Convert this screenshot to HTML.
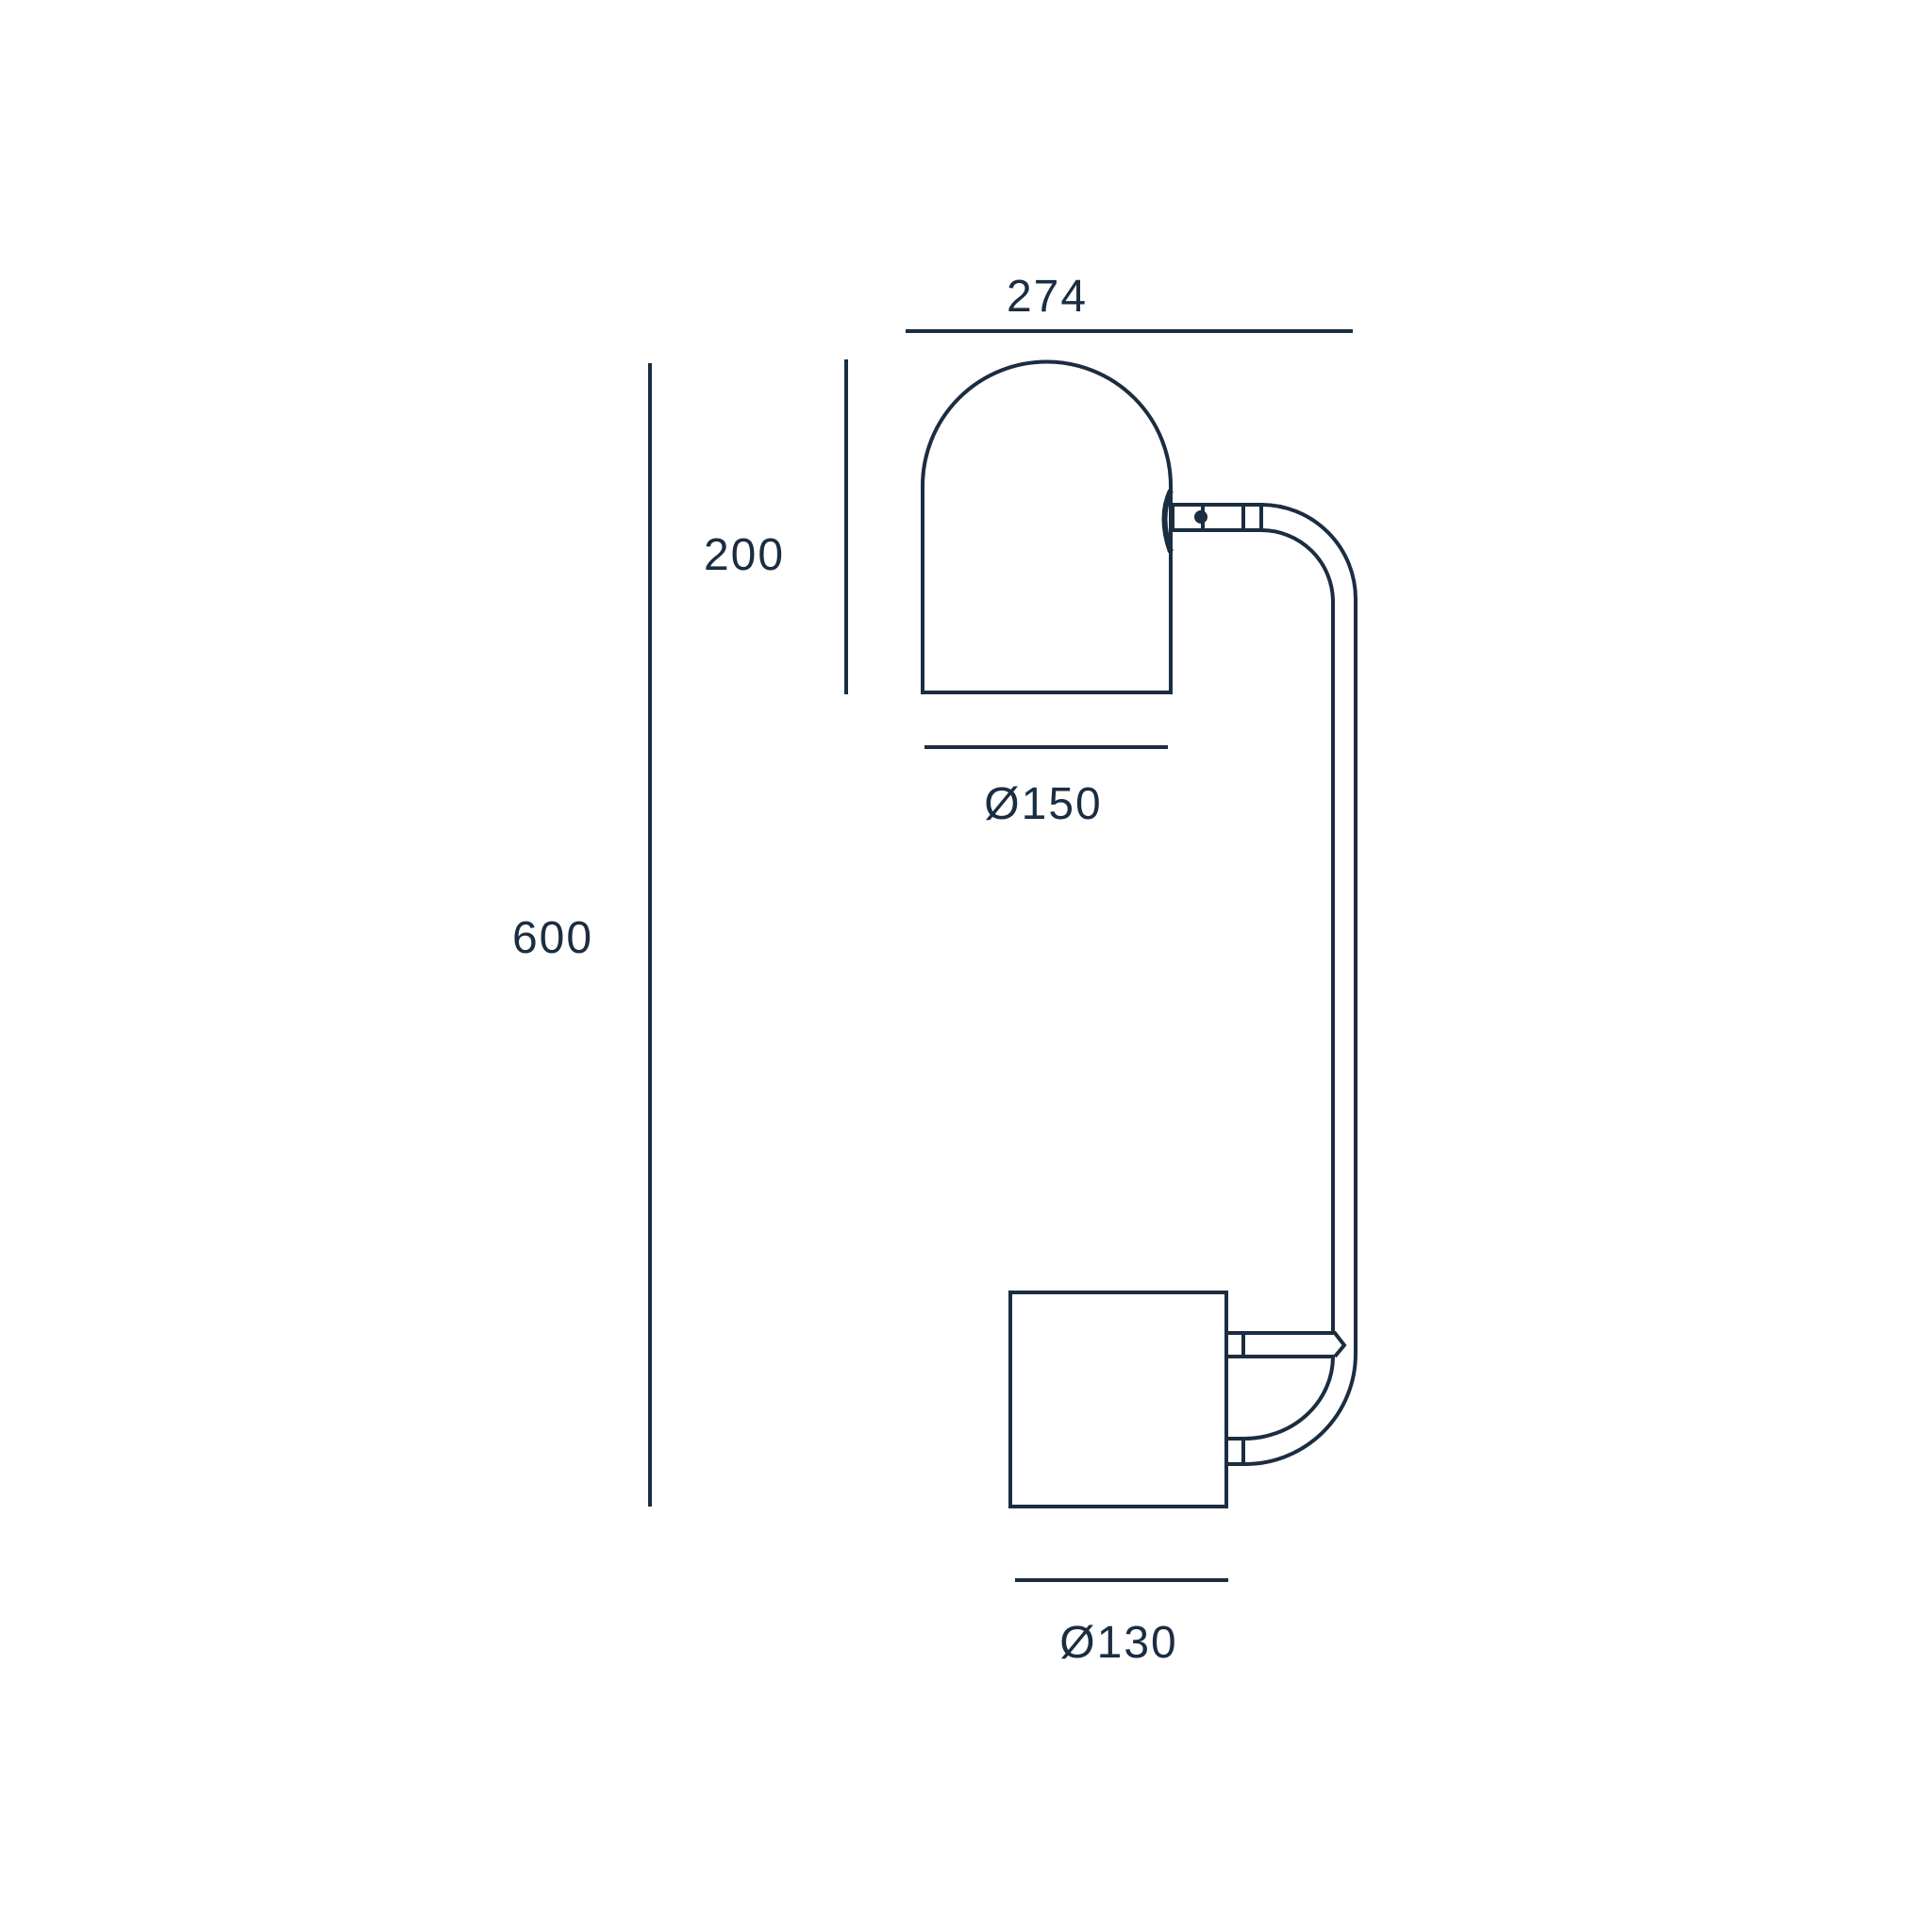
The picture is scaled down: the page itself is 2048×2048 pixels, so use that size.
<!DOCTYPE html>
<html><head><meta charset="utf-8"><style>
html,body{margin:0;padding:0;background:#fff;}
svg{display:block}
text{font-family:"Liberation Sans",sans-serif;font-size:48px;fill:#1b2d40;letter-spacing:2px}
</style></head><body>
<svg width="2048" height="2048" viewBox="0 0 2048 2048" xmlns="http://www.w3.org/2000/svg">
<g stroke="#1b2d40" stroke-width="4" fill="none">
<!-- dimension lines -->
<line x1="960" y1="351" x2="1434" y2="351"/>
<line x1="897" y1="381" x2="897" y2="736"/>
<line x1="689" y1="385" x2="689" y2="1597"/>
<line x1="980" y1="792" x2="1238" y2="792"/>
<line x1="1076" y1="1675" x2="1302" y2="1675"/>
<!-- shade -->
<path d="M978 734 L978 515 A131.5 131.5 0 0 1 1241 515 L1241 734 Z"/>
<path d="M1241 520 Q1228 548 1241 585" stroke-width="6"/>
<!-- top connector -->
<rect x="1243" y="535" width="32" height="27"/>
<rect x="1275" y="535" width="62" height="27"/>
<line x1="1318" y1="535" x2="1318" y2="562"/>
<circle cx="1273" cy="548" r="5" fill="#1b2d40"/>
<!-- pole -->
<path d="M1337 535 A100 100 0 0 1 1437 635 L1437 1435 A117 117 0 0 1 1318 1552"/>
<path d="M1337 562 A76 76 0 0 1 1413 638 L1413 1413"/>
<path d="M1318 1438 L1413 1438 A94 87 0 0 1 1318 1525"/>
<!-- base -->
<rect x="1071" y="1370" width="229" height="227"/>
<rect x="1300" y="1413" width="18" height="25"/>
<rect x="1300" y="1525" width="18" height="27"/>
<path d="M1318 1413 L1415 1413 L1425 1426 L1415 1438"/>
</g>
<text x="1110" y="330" text-anchor="middle">274</text>
<text x="789" y="604" text-anchor="middle">200</text>
<text x="586" y="1010" text-anchor="middle">600</text>
<text x="1106" y="868" text-anchor="middle">Ø150</text>
<text x="1186" y="1757" text-anchor="middle">Ø130</text>
</svg>
</body></html>
